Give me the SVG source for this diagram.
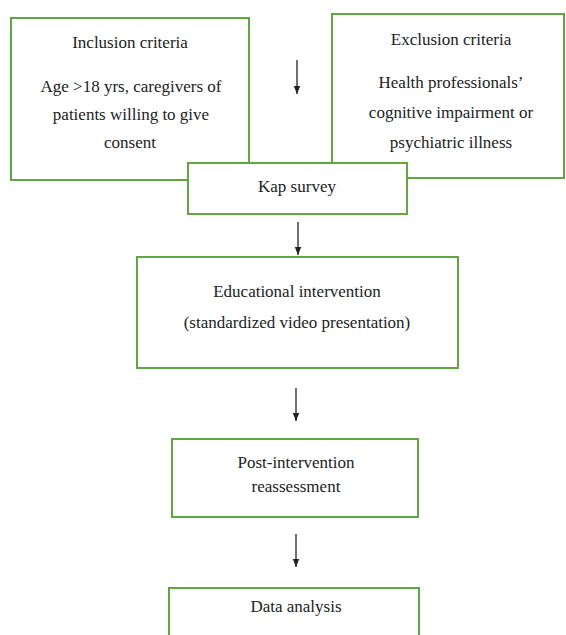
<svg xmlns="http://www.w3.org/2000/svg" width="566" height="635" viewBox="0 0 566 635">
<defs>
<style>
.box{fill:#fff;stroke:#5fa83f;stroke-width:2}
.c{stroke:#222;stroke-width:1.3;fill:none}
</style>
<marker id="a" markerWidth="8" markerHeight="10" refX="10" refY="4" orient="auto" markerUnits="userSpaceOnUse" viewBox="0 0 10 8">
<path d="M0,0 L10,4 L0,8 Z" fill="#222"/>
</marker>
</defs>
<rect width="566" height="635" fill="#fff"/>
<g id="inclusion">
<rect class="box" x="11" y="18" width="238" height="162"/>
<text x="130" y="48" font-family="Liberation Serif, serif" font-size="17" fill="#222" text-anchor="middle">Inclusion criteria</text>
<text x="131" y="92" font-family="Liberation Serif, serif" font-size="17" fill="#222" text-anchor="middle">Age &gt;18 yrs, caregivers of</text>
<text x="131" y="120" font-family="Liberation Serif, serif" font-size="17" fill="#222" text-anchor="middle">patients willing to give</text>
<text x="130" y="148" font-family="Liberation Serif, serif" font-size="17" fill="#222" text-anchor="middle">consent</text>
</g>
<g id="exclusion">
<rect class="box" x="332" y="14" width="232" height="164"/>
<text x="451" y="45" font-family="Liberation Serif, serif" font-size="17" fill="#222" text-anchor="middle">Exclusion criteria</text>
<text x="451" y="88" font-family="Liberation Serif, serif" font-size="17" fill="#222" text-anchor="middle">Health professionals&#8217;</text>
<text x="451" y="118" font-family="Liberation Serif, serif" font-size="17" fill="#222" text-anchor="middle">cognitive impairment or</text>
<text x="451" y="148" font-family="Liberation Serif, serif" font-size="17" fill="#222" text-anchor="middle">psychiatric illness</text>
</g>
<g id="kap">
<rect class="box" x="188" y="163" width="219" height="51"/>
<text x="297" y="192" font-family="Liberation Serif, serif" font-size="17" fill="#222" text-anchor="middle">Kap survey</text>
</g>
<g id="education">
<rect class="box" x="137" y="257" width="321" height="111"/>
<text x="297" y="297" font-family="Liberation Serif, serif" font-size="17" fill="#222" text-anchor="middle">Educational intervention</text>
<text x="297" y="328" font-family="Liberation Serif, serif" font-size="17" fill="#222" text-anchor="middle">(standardized video presentation)</text>
</g>
<g id="post">
<rect class="box" x="172" y="439" width="246" height="78"/>
<text x="296" y="468" font-family="Liberation Serif, serif" font-size="17" fill="#222" text-anchor="middle">Post-intervention</text>
<text x="296" y="492" font-family="Liberation Serif, serif" font-size="17" fill="#222" text-anchor="middle">reassessment</text>
</g>
<g id="data">
<rect class="box" x="169" y="588" width="250" height="60"/>
<text x="296" y="612" font-family="Liberation Serif, serif" font-size="17" fill="#222" text-anchor="middle">Data analysis</text>
</g>
<g id="connectors">
<line class="c" x1="297" y1="60" x2="297" y2="94" marker-end="url(#a)"/>
<line class="c" x1="298" y1="222" x2="298" y2="255" marker-end="url(#a)"/>
<line class="c" x1="296" y1="388" x2="296" y2="421" marker-end="url(#a)"/>
<line class="c" x1="296" y1="534" x2="296" y2="567" marker-end="url(#a)"/>
</g>
</svg>
